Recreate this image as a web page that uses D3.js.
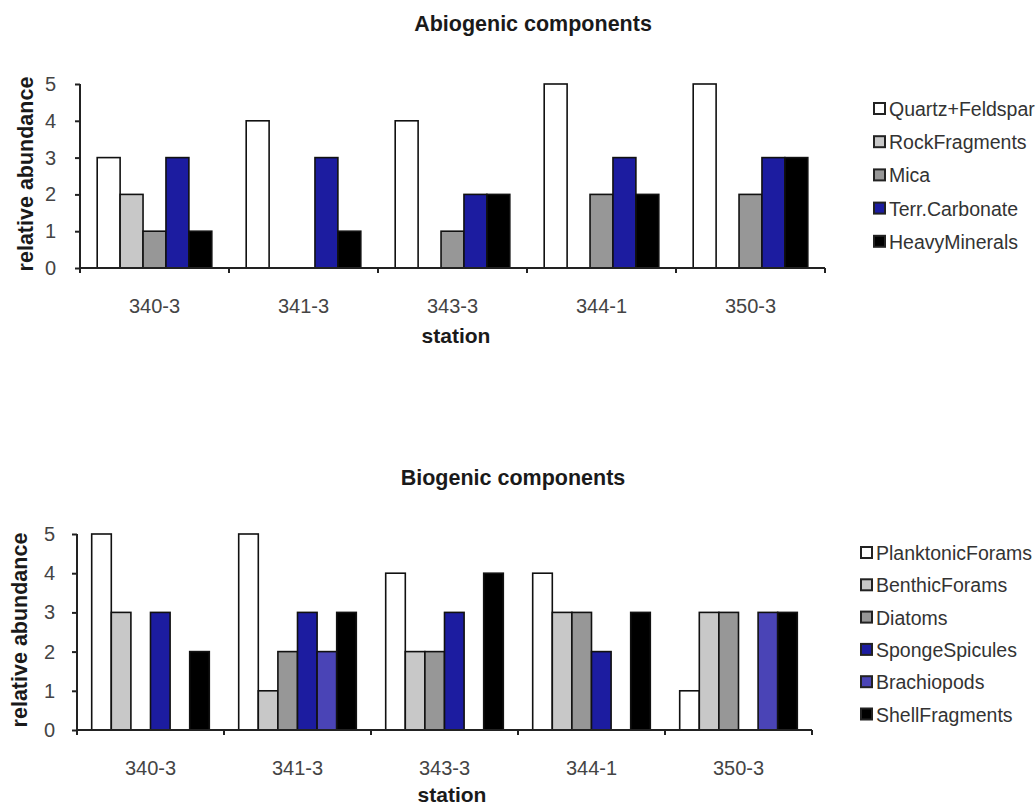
<!DOCTYPE html>
<html>
<head>
<meta charset="utf-8">
<script src="https://cdn.jsdelivr.net/npm/d3@7/dist/d3.min.js"></script>
<style>
  html, body { margin: 0; padding: 0; background: #ffffff; }
  svg { display: block; font-family: "Liberation Sans", Arial, sans-serif; }
</style>
</head>
<body>
<svg id="chart" width="1036" height="807"></svg>
<script>
// Sampling stations (shared by both panels)
const stations = ["340-3", "341-3", "343-3", "344-1", "350-3"];
const yTicks = [0, 1, 2, 3, 4, 5];

// Abiogenic components, relative abundance per station
const abioSeries = ["Quartz+Feldspar", "RockFragments", "Mica", "Terr.Carbonate", "HeavyMinerals"];
const quartzFeldspar = [3, 4, 4, 5, 5];
const rockFragments  = [2, 0, 0, 0, 0];
const mica           = [1, 0, 1, 2, 2];
const terrCarbonate  = [3, 3, 2, 3, 3];
const heavyMinerals  = [1, 1, 2, 2, 3];

// Biogenic components, relative abundance per station
const bioSeries = ["PlanktonicForams", "BenthicForams", "Diatoms", "SpongeSpicules", "Brachiopods", "ShellFragments"];
const planktonicForams = [5, 5, 4, 4, 1];
const benthicForams    = [3, 1, 2, 3, 3];
const diatoms          = [0, 2, 2, 3, 3];
const spongeSpicules   = [3, 3, 3, 2, 0];
const brachiopods      = [0, 2, 0, 0, 3];
const shellFragments   = [2, 3, 4, 3, 3];

const abioColors = ["#ffffff", "#c8c8c8", "#979797", "#1c1ca0", "#000000"];
const bioColors  = ["#ffffff", "#c8c8c8", "#979797", "#1c1ca0", "#4a44b6", "#000000"];

const svg = d3.select("#chart");

function drawPanel(opt) {
  const g = svg.append("g");
  const x = d3.scaleBand().domain(stations).range([opt.left, opt.right]);
  const y = d3.scaleLinear().domain([0, 5]).range([opt.bottom, opt.top]);
  const n = opt.series.length;
  // 150% gap between clusters: bar width = band / (n + 1.5)
  const bw = x.bandwidth() / (n + 1.5);
  const inner = d3.scaleBand().domain(d3.range(n)).range([bw * 0.75, bw * 0.75 + bw * n]);

  // bars
  opt.values.forEach((vals, si) => {
    g.append("g").selectAll("rect")
      .data(vals.map((v, i) => ({ v, st: stations[i] })).filter(d => d.v > 0))
      .join("rect")
      .attr("x", d => x(d.st) + inner(si))
      .attr("width", bw)
      .attr("y", d => y(d.v))
      .attr("height", d => y(0) - y(d.v))
      .attr("fill", opt.colors[si])
      .attr("stroke", "#111")
      .attr("stroke-width", 1.6);
  });

  // y axis
  const yAxis = g.append("g")
    .attr("transform", `translate(${opt.left},0)`)
    .call(d3.axisLeft(y).tickValues(yTicks).tickSize(5).tickPadding(opt.yPad).tickFormat(d3.format("d")));
  yAxis.select(".domain").attr("stroke", "#222").attr("stroke-width", 2).attr("d", `M0,${opt.bottom}V${opt.top}`);
  yAxis.selectAll(".tick line").attr("stroke", "#222").attr("stroke-width", 2);
  yAxis.selectAll(".tick text")
    .attr("font-size", 20).attr("fill", "#444")
    .attr("font-family", "Liberation Sans, Arial, sans-serif");

  // x axis: line plus ticks at the category boundaries
  const xg = g.append("g");
  xg.append("line")
    .attr("x1", opt.left).attr("x2", opt.right)
    .attr("y1", y(0)).attr("y2", y(0))
    .attr("stroke", "#222").attr("stroke-width", 2);
  const bounds = stations.map(s => x(s)).concat([opt.right]);
  xg.selectAll("line.bt").data(bounds).join("line")
    .attr("class", "bt")
    .attr("x1", d => d).attr("x2", d => d)
    .attr("y1", y(0)).attr("y2", y(0) + 5)
    .attr("stroke", "#222").attr("stroke-width", 2);
  xg.selectAll("text").data(stations).join("text")
    .attr("x", d => x(d) + x.bandwidth() / 2)
    .attr("y", opt.catY)
    .attr("text-anchor", "middle")
    .attr("font-size", 20).attr("fill", "#444")
    .text(d => d);

  // titles
  g.append("text")
    .attr("x", opt.titleX).attr("y", opt.titleY)
    .attr("text-anchor", "middle")
    .attr("font-size", 21.5).attr("font-weight", "bold").attr("fill", "#1a1a1a")
    .text(opt.title);
  g.append("text")
    .attr("x", opt.xLabelX).attr("y", opt.xLabelY)
    .attr("text-anchor", "middle")
    .attr("font-size", 21).attr("font-weight", "bold").attr("fill", "#1a1a1a")
    .text("station");
  g.append("text")
    .attr("transform", `translate(${opt.yLabelX},${(opt.top + opt.bottom) / 2 - 2}) rotate(-90)`)
    .attr("text-anchor", "middle")
    .attr("font-size", 21.5).attr("font-weight", "bold").attr("fill", "#1a1a1a")
    .text("relative abundance");

  // legend
  const lg = g.append("g").attr("transform", `translate(${opt.legendX},${opt.legendY})`);
  const item = lg.selectAll("g").data(opt.series).join("g")
    .attr("transform", (d, i) => `translate(0,${i * opt.legendStep})`);
  item.append("rect")
    .attr("x", 0).attr("y", -6).attr("width", 11).attr("height", 11)
    .attr("fill", (d, i) => opt.colors[i])
    .attr("stroke", "#222").attr("stroke-width", 2);
  item.append("text")
    .attr("x", 15).attr("y", 7)
    .attr("font-size", 19.5).attr("fill", "#333")
    .text(d => d);
}

drawPanel({
  series: abioSeries,
  values: [quartzFeldspar, rockFragments, mica, terrCarbonate, heavyMinerals],
  colors: abioColors,
  left: 80, right: 825, top: 84, bottom: 268,
  yPad: 19,
  catY: 313,
  title: "Abiogenic components", titleX: 533, titleY: 31,
  xLabelX: 456, xLabelY: 343,
  yLabelX: 33,
  legendX: 874, legendY: 109, legendStep: 33.2
});

drawPanel({
  series: bioSeries,
  values: [planktonicForams, benthicForams, diatoms, spongeSpicules, brachiopods, shellFragments],
  colors: bioColors,
  left: 77, right: 812, top: 534, bottom: 730,
  yPad: 17,
  catY: 775,
  title: "Biogenic components", titleX: 513, titleY: 485,
  xLabelX: 452, xLabelY: 802,
  yLabelX: 27,
  legendX: 861, legendY: 553, legendStep: 32.3
});
</script>
</body>
</html>
